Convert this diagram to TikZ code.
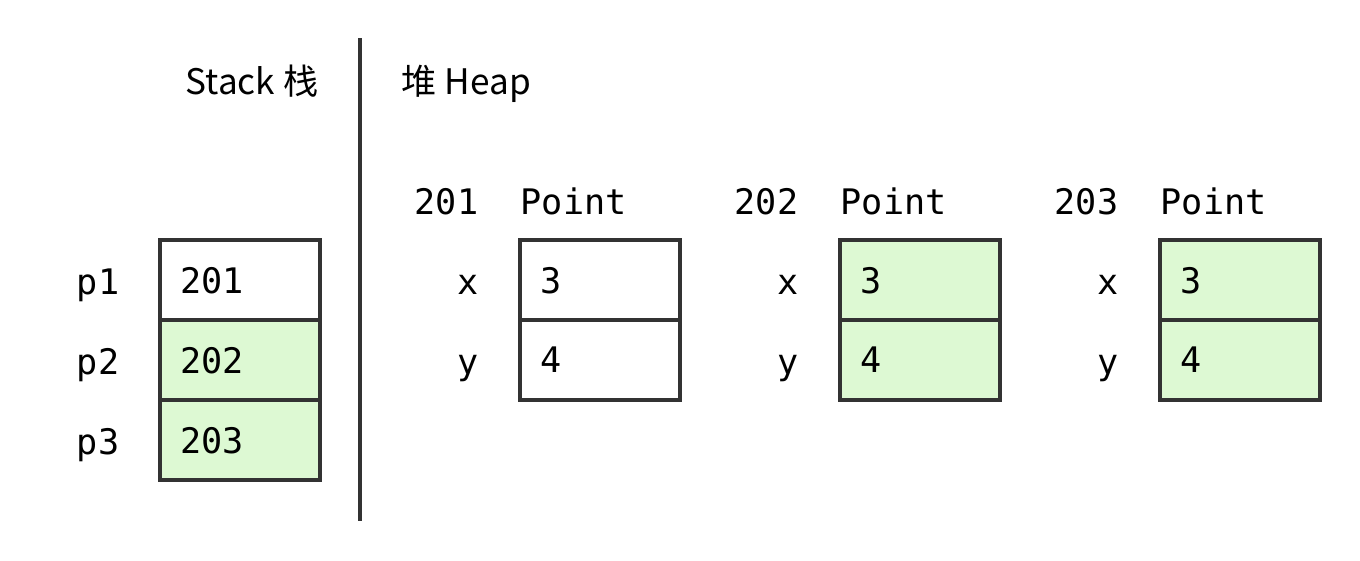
\documentclass[tikz,border=0pt]{standalone}
\usepackage{fontspec}
\setmainfont{Noto Sans CJK SC}
\setmonofont{DejaVu Sans Mono}
\usepackage{xcolor}
\usepackage{tikz}
\definecolor{cellline}{HTML}{333333}
\definecolor{cellgreen}{HTML}{DDF9D3}

\begin{document}
\begin{tikzpicture}[
	x=0.01cm,y=-0.01cm,
	cell/.style={rectangle,draw=cellline,line width=1.14pt,anchor=north west,outer sep=0pt,minimum width=1.6cm,minimum height=0.8cm,inner xsep=0.2cm,text width=1.2cm,text depth=0pt,align=left,font=\ttfamily},
	newcell/.style={cell,fill=cellgreen},
	lbl/.style={anchor=base east,inner sep=0pt,font=\ttfamily},
	title/.style={inner sep=0pt}
]
	\useasboundingbox (0,0) rectangle (1360,560);
	\draw[line width=1.14pt,cellline] (360,38) -- (360,521);
	\node[title,anchor=base east] (stack) at (319,94) {Stack 栈};
	\node[title,anchor=base west] (heap) at (401,94) {堆 Heap};
	% stack
	\node[cell] (s1) at (160,240) {201};
	\node[newcell] (s2) at (160,320) {202};
	\node[newcell] (s3) at (160,400) {203};
	\node[lbl] (p1) at (120,294) {p1};
	\node[lbl] (p2) at (120,374) {p2};
	\node[lbl] (p3) at (120,454) {p3};
	% heap
	\node[lbl] (a1) at (479,214) {201};
	\node[lbl,anchor=base west] (t1) at (520,214) {Point};
	\node[lbl] (x1) at (479,294) {x};
	\node[lbl] (y1) at (479,374) {y};
	\node[cell] (h1x) at (520,240) {3};
	\node[cell] (h1y) at (520,320) {4};
	\node[lbl] (a2) at (799,214) {202};
	\node[lbl,anchor=base west] (t2) at (840,214) {Point};
	\node[lbl] (x2) at (799,294) {x};
	\node[lbl] (y2) at (799,374) {y};
	\node[newcell] (h2x) at (840,240) {3};
	\node[newcell] (h2y) at (840,320) {4};
	\node[lbl] (a3) at (1119,214) {203};
	\node[lbl,anchor=base west] (t3) at (1160,214) {Point};
	\node[lbl] (x3) at (1119,294) {x};
	\node[lbl] (y3) at (1119,374) {y};
	\node[newcell] (h3x) at (1160,240) {3};
	\node[newcell] (h3y) at (1160,320) {4};
\end{tikzpicture}
\end{document}
